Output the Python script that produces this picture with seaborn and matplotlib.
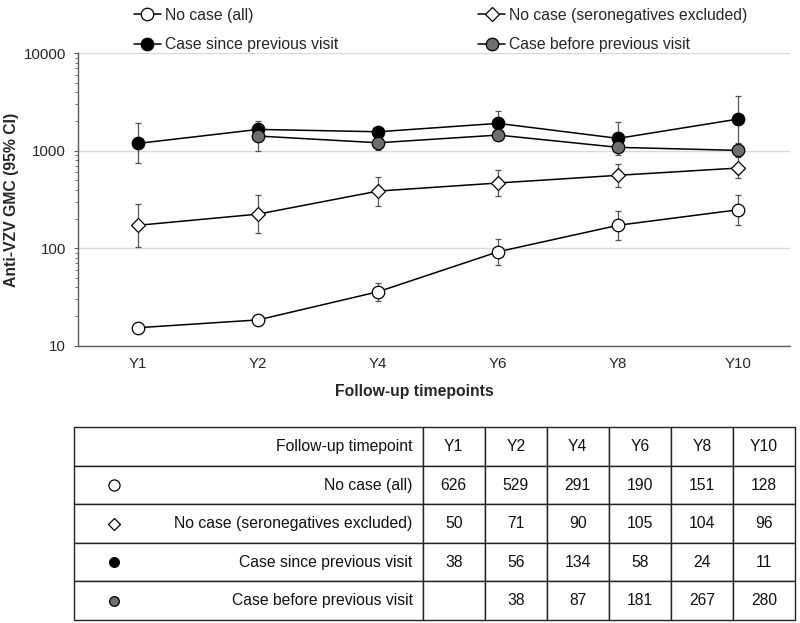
import numpy as np
import pandas as pd
import matplotlib
matplotlib.use("Agg")
import matplotlib.pyplot as plt
from matplotlib.table import Table
import seaborn as sns

# ---------------- data ----------------
timepoints = ["Y1", "Y2", "Y4", "Y6", "Y8", "Y10"]

series_names = ["No case (all)", "No case (seronegatives excluded)",
                "Case since previous visit", "Case before previous visit"]

no_case_all = [15.3, 18.4, 35.8, 92, 172, 248]
no_case_all_lo = [13.8, 16.8, 28.7, 67, 121, 173]
no_case_all_hi = [17.0, 20.2, 44.3, 125, 239, 352]

no_case_seroneg = [172, 224, 386, 467, 560, 665]
no_case_seroneg_lo = [104, 143, 269, 343, 427, 521]
no_case_seroneg_hi = [284, 349, 541, 638, 736, 861]

case_since = [1191, 1656, 1567, 1910, 1340, 2114]
case_since_lo = [743, 1380, 1420, 1560, 1150, 1208]
case_since_hi = [1936, 2032, 1720, 2570, 1982, 3664]

case_before = [np.nan, 1416, 1208, 1449, 1084, 1009]
case_before_lo = [np.nan, 995, 1016, 1300, 903, 880]
case_before_hi = [np.nan, 1600, 1350, 1600, 1260, 1150]

n_no_case_all = ["626", "529", "291", "190", "151", "128"]
n_no_case_seroneg = ["50", "71", "90", "105", "104", "96"]
n_case_since = ["38", "56", "134", "58", "24", "11"]
n_case_before = ["", "38", "87", "181", "267", "280"]

table_header = "Follow-up timepoint"
y_ticks = [10, 100, 1000, 10000]
y_label = "Anti-VZV GMC (95% CI)"
x_label = "Follow-up timepoints"

# ---------------- style ----------------
sns.set_theme(style="white")
plt.rcParams["font.family"] = ["Liberation Sans", "DejaVu Sans"]
FS = 11.3
FS_TICK = 10.8

W, H = 800, 623
fig = plt.figure(figsize=(8, 6.23), dpi=100)
ax = fig.add_axes([78.3 / W, 1 - 345.7 / H, (790 - 78.3) / W, (345.7 - 53.3) / H])

x = np.arange(len(timepoints))
styles = [
    dict(marker="o", markerfacecolor="white", markersize=9),
    dict(marker="D", markerfacecolor="white", markersize=7),
    dict(marker="o", markerfacecolor="black", markersize=9),
    dict(marker="o", markerfacecolor="#6e6e6e", markersize=9),
]
vals = [no_case_all, no_case_seroneg, case_since, case_before]
los = [no_case_all_lo, no_case_seroneg_lo, case_since_lo, case_before_lo]
his = [no_case_all_hi, no_case_seroneg_hi, case_since_hi, case_before_hi]

handles = []
for i, (name, v, lo, hi, st) in enumerate(zip(series_names, vals, los, his, styles)):
    v = np.array(v, float); lo = np.array(lo, float); hi = np.array(hi, float)
    m = ~np.isnan(v)
    ax.errorbar(x[m], v[m], yerr=[v[m] - lo[m], hi[m] - v[m]], fmt="none",
                ecolor="#555555", elinewidth=0.9, capsize=2.2, capthick=0.9,
                zorder=2 + 2 * i)
    df = pd.DataFrame({"x": x[m], "y": v[m]})
    sns.lineplot(data=df, x="x", y="y", ax=ax, color="black", linewidth=1.1,
                 markeredgecolor="black", markeredgewidth=0.9, errorbar=None,
                 zorder=3 + 2 * i, **st)
    handles.append(ax.lines[-1])

ax.set_yscale("log")
ax.set_ylim(10, 10000)
ax.set_xlim(-0.5, 5 + 52 / 120)
ax.set_yticks(y_ticks)
ax.set_yticklabels([str(t) for t in y_ticks], fontsize=FS_TICK)
ax.set_xticks(x)
ax.set_xticklabels(timepoints, fontsize=FS_TICK)
ax.yaxis.grid(True, which="major", color="#d9d9d9", linewidth=1.0)
ax.xaxis.grid(False)
for s in ["top", "right"]:
    ax.spines[s].set_visible(False)
for s in ["left", "bottom"]:
    ax.spines[s].set_color("#595959")
    ax.spines[s].set_linewidth(1.0)
ax.tick_params(axis="y", which="major", direction="out", length=3, width=0.8,
               color="#595959", pad=6, left=True)
ax.tick_params(axis="y", which="minor", direction="out", length=2, width=0.6,
               color="#595959", left=True)
ax.tick_params(axis="x", length=0, pad=8)
ax.set_xlabel(x_label, fontsize=FS, fontweight="bold")
ax.xaxis.set_label_coords((414 - 78.3) / (790 - 78.3), -(391.7 - 345.7) / (345.7 - 53.3), transform=ax.transAxes)
ax.set_ylabel(y_label, fontsize=FS, fontweight="bold")
ax.yaxis.set_label_coords(-(78.3 - 12) / (790 - 78.3), 0.5)
ax.xaxis.label.set_va("center")
ax.yaxis.label.set_va("center")

# legend (row-wise ordering)
order = [0, 2, 1, 3]
leg = fig.legend([handles[i] for i in order], [series_names[i] for i in order],
                 ncol=2, loc="upper left", bbox_to_anchor=(123 / W, 1 + 3 / H),
                 frameon=False, fontsize=FS, handlelength=1.7, handletextpad=0.25,
                 columnspacing=8.95, labelspacing=0.9, borderpad=0.2)

# ---------------- table ----------------
tl, tr, tt, tb = 74.3, 795.0, 427.3, 620.0
tax = fig.add_axes([tl / W, 1 - tb / H, (tr - tl) / W, (tb - tt) / H])
tax.set_xlim(0, 1); tax.set_ylim(0, 1)
tax.axis("off")

first_w = (422.7 - tl) / (tr - tl)
other_w = (1 - first_w) / len(timepoints)
row_h = 1 / 5
rows = [[table_header] + timepoints,
        [series_names[0]] + n_no_case_all,
        [series_names[1]] + n_no_case_seroneg,
        [series_names[2]] + n_case_since,
        [series_names[3]] + n_case_before]
tab = Table(tax, bbox=[0, 0, 1, 1])
for r, row in enumerate(rows):
    for c, txt in enumerate(row):
        if c == 0:
            cell = tab.add_cell(r, c, first_w, row_h, text=txt, loc="right")
            cell.PAD = 10 / (422.7 - tl)
        else:
            cell = tab.add_cell(r, c, other_w, row_h, text=txt, loc="center")
        cell.set_edgecolor("#222222")
        cell.set_linewidth(1.0)
        cell.set_facecolor("white")
        cell.get_text().set_fontsize(FS)
        cell.get_text().set_color("#111111")
tab.auto_set_font_size(False)
tax.add_table(tab)

mx = (114.3 - tl) / (tr - tl)
tstyles = [
    dict(marker="o", markerfacecolor="white", markersize=8),
    dict(marker="D", markerfacecolor="white", markersize=6),
    dict(marker="o", markerfacecolor="black", markersize=7),
    dict(marker="o", markerfacecolor="#6e6e6e", markersize=7),
]
for i, st in enumerate(tstyles):
    yc = 1 - (i + 1.5) * row_h
    tax.plot([mx], [yc], linestyle="none", markeredgecolor="black",
             markeredgewidth=0.9, zorder=10, **st)

fig.savefig("out.png", dpi=100)
